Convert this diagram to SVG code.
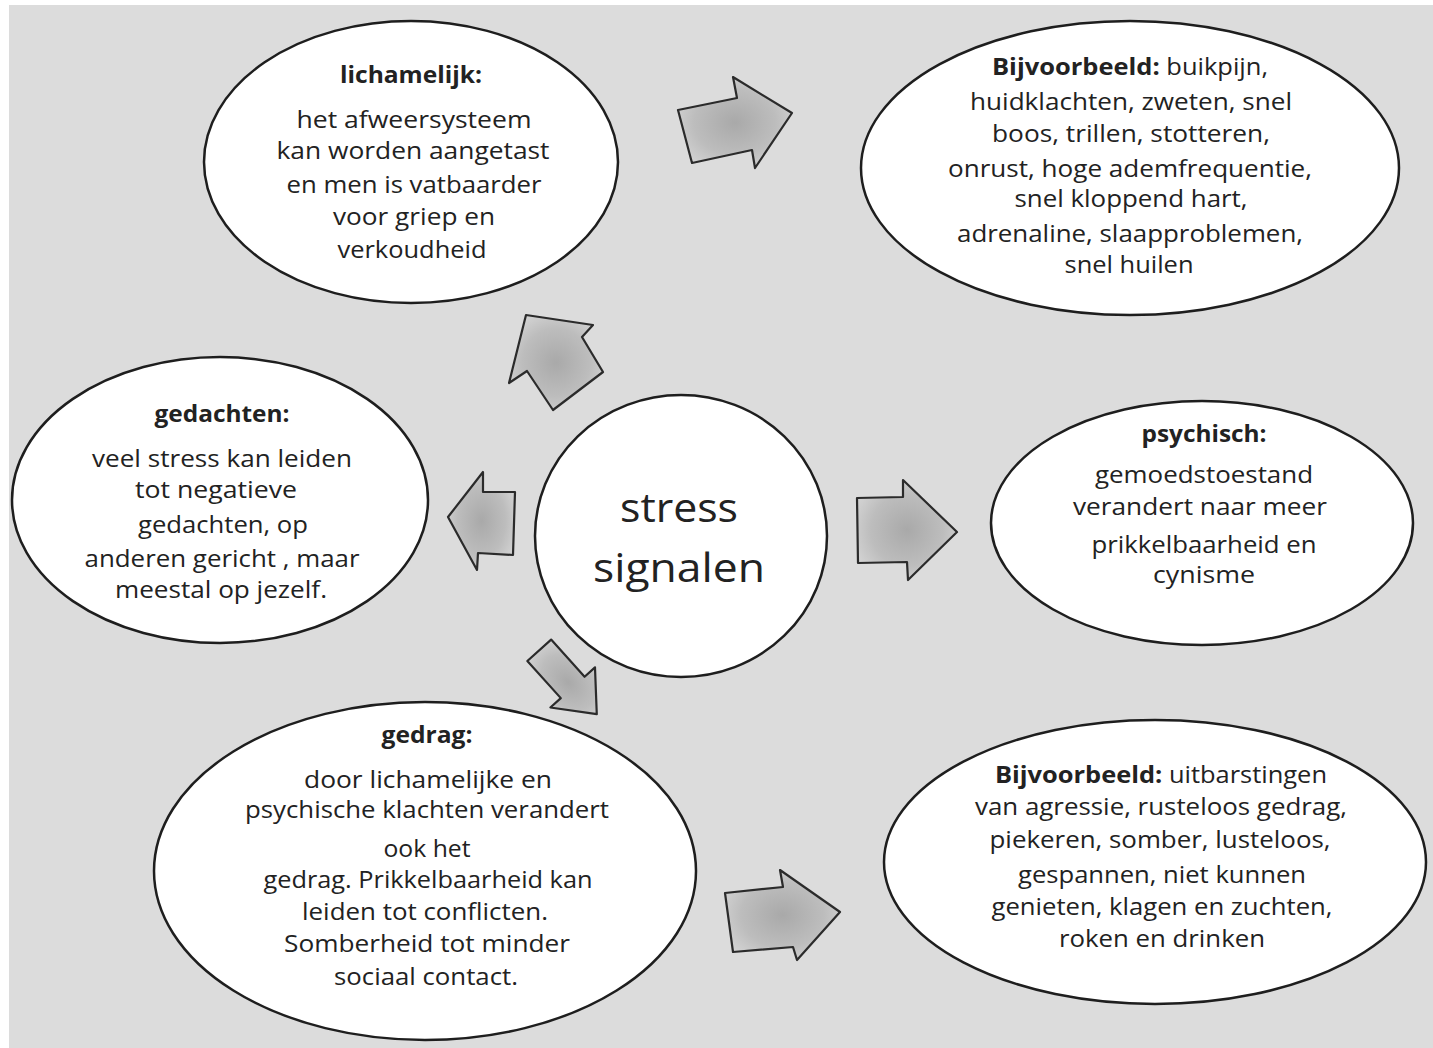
<svg xmlns="http://www.w3.org/2000/svg" width="1433" height="1048" viewBox="0 0 1433 1048">
<defs>
<style>
.node ellipse{fill:#ffffff;stroke:#1e1e1e;stroke-width:2.5}
.t{font-family:"Open Sans","Liberation Sans",sans-serif;font-size:23px;fill:#222222;text-anchor:middle}
.b{font-weight:bold}
.big{font-size:40px}
.arrow{fill:url(#ag);stroke:#2b2b2b;stroke-width:2.2;stroke-linejoin:round}
</style>
<radialGradient id="ag" cx="0.5" cy="0.5" r="0.6">
<stop offset="0" stop-color="#a9a9a9"/>
<stop offset="0.6" stop-color="#bdbdbd"/>
<stop offset="1" stop-color="#d6d6d6"/>
</radialGradient>
</defs>
<rect x="0" y="0" width="1433" height="1048" fill="#ffffff"/>
<rect x="9" y="5" width="1424" height="1043" fill="#dcdcdc"/>

<g id="connectors">
<polygon class="arrow" points="678,110 737,98 733,77 792,113 755,168 752,150 692,163"/>
<polygon class="arrow" points="526,315 593,325 582,337 603,372 553,410 527,371 509,383"/>
<polygon class="arrow" points="448,517 483,472 483,492 515,492 513,555 478,553 477,570"/>
<polygon class="arrow" transform="translate(566,680) rotate(48)" points="-40,-16 10,-16 10,-30 46,0 10,30 10,16 -40,16"/>
<polygon class="arrow" points="857,498 903,497 903,480 957,532 908,580 907,562 858,563"/>
<polygon class="arrow" points="725,893 783,887 780,870 840,912 797,960 793,947 733,952"/>
</g>

<g id="lichamelijk" class="node">
<ellipse cx="411" cy="162" rx="207" ry="141"/>
<text class="t b" x="411" y="83" textLength="142" lengthAdjust="spacingAndGlyphs">lichamelijk:</text>
<text class="t" x="414" y="128" textLength="235" lengthAdjust="spacingAndGlyphs">het afweersysteem</text>
<text class="t" x="413" y="159" textLength="273" lengthAdjust="spacingAndGlyphs">kan worden aangetast</text>
<text class="t" x="414" y="193" textLength="255" lengthAdjust="spacingAndGlyphs">en men is vatbaarder</text>
<text class="t" x="414" y="225" textLength="162" lengthAdjust="spacingAndGlyphs">voor griep en</text>
<text class="t" x="412" y="258" textLength="149" lengthAdjust="spacingAndGlyphs">verkoudheid</text>
</g>

<g id="voorbeeld-lichamelijk" class="node">
<ellipse cx="1130" cy="168" rx="269" ry="147"/>
<text class="t" x="1130" y="75" textLength="276" lengthAdjust="spacingAndGlyphs"><tspan class="b">Bijvoorbeeld:</tspan> buikpijn,</text>
<text class="t" x="1131" y="110" textLength="322" lengthAdjust="spacingAndGlyphs">huidklachten, zweten, snel</text>
<text class="t" x="1131" y="142" textLength="278" lengthAdjust="spacingAndGlyphs">boos, trillen, stotteren,</text>
<text class="t" x="1130" y="177" textLength="364" lengthAdjust="spacingAndGlyphs">onrust, hoge ademfrequentie,</text>
<text class="t" x="1131" y="207" textLength="233" lengthAdjust="spacingAndGlyphs">snel kloppend hart,</text>
<text class="t" x="1130" y="242" textLength="346" lengthAdjust="spacingAndGlyphs">adrenaline, slaapproblemen,</text>
<text class="t" x="1129" y="273" textLength="129" lengthAdjust="spacingAndGlyphs">snel huilen</text>
</g>

<g id="gedachten" class="node">
<ellipse cx="220" cy="500" rx="208" ry="143"/>
<text class="t b" x="222" y="422" textLength="135" lengthAdjust="spacingAndGlyphs">gedachten:</text>
<text class="t" x="222" y="467" textLength="260" lengthAdjust="spacingAndGlyphs">veel stress kan leiden</text>
<text class="t" x="216" y="498" textLength="162" lengthAdjust="spacingAndGlyphs">tot negatieve</text>
<text class="t" x="223" y="533" textLength="170" lengthAdjust="spacingAndGlyphs">gedachten, op</text>
<text class="t" x="222" y="567" textLength="275" lengthAdjust="spacingAndGlyphs">anderen gericht , maar</text>
<text class="t" x="221" y="598" textLength="212" lengthAdjust="spacingAndGlyphs">meestal op jezelf.</text>
</g>

<g id="stress-signalen" class="node">
<ellipse cx="681" cy="536" rx="146" ry="141"/>
<text class="t big" x="679" y="522" textLength="118" lengthAdjust="spacingAndGlyphs">stress</text>
<text class="t big" x="679" y="582" textLength="172" lengthAdjust="spacingAndGlyphs">signalen</text>
</g>

<g id="psychisch" class="node">
<ellipse cx="1202" cy="523" rx="211" ry="122"/>
<text class="t b" x="1204" y="442" textLength="125" lengthAdjust="spacingAndGlyphs">psychisch:</text>
<text class="t" x="1204" y="483" textLength="218" lengthAdjust="spacingAndGlyphs">gemoedstoestand</text>
<text class="t" x="1200" y="515" textLength="254" lengthAdjust="spacingAndGlyphs">verandert naar meer</text>
<text class="t" x="1204" y="553" textLength="225" lengthAdjust="spacingAndGlyphs">prikkelbaarheid en</text>
<text class="t" x="1204" y="583" textLength="102" lengthAdjust="spacingAndGlyphs">cynisme</text>
</g>

<g id="gedrag" class="node">
<ellipse cx="425" cy="871" rx="271" ry="169"/>
<text class="t b" x="427" y="743" textLength="91" lengthAdjust="spacingAndGlyphs">gedrag:</text>
<text class="t" x="428" y="788" textLength="248" lengthAdjust="spacingAndGlyphs">door lichamelijke en</text>
<text class="t" x="427" y="818" textLength="364" lengthAdjust="spacingAndGlyphs">psychische klachten verandert</text>
<text class="t" x="427" y="857" textLength="87" lengthAdjust="spacingAndGlyphs">ook het</text>
<text class="t" x="428" y="888" textLength="329" lengthAdjust="spacingAndGlyphs">gedrag. Prikkelbaarheid kan</text>
<text class="t" x="425" y="920" textLength="246" lengthAdjust="spacingAndGlyphs">leiden tot conflicten.</text>
<text class="t" x="427" y="952" textLength="286" lengthAdjust="spacingAndGlyphs">Somberheid tot minder</text>
<text class="t" x="426" y="985" textLength="184" lengthAdjust="spacingAndGlyphs">sociaal contact.</text>
</g>

<g id="voorbeeld-gedrag" class="node">
<ellipse cx="1155" cy="862" rx="271" ry="142"/>
<text class="t" x="1161" y="783" textLength="332" lengthAdjust="spacingAndGlyphs"><tspan class="b">Bijvoorbeeld:</tspan> uitbarstingen</text>
<text class="t" x="1161" y="815" textLength="372" lengthAdjust="spacingAndGlyphs">van agressie, rusteloos gedrag,</text>
<text class="t" x="1160" y="848" textLength="341" lengthAdjust="spacingAndGlyphs">piekeren, somber, lusteloos,</text>
<text class="t" x="1162" y="883" textLength="288" lengthAdjust="spacingAndGlyphs">gespannen, niet kunnen</text>
<text class="t" x="1162" y="915" textLength="341" lengthAdjust="spacingAndGlyphs">genieten, klagen en zuchten,</text>
<text class="t" x="1162" y="947" textLength="206" lengthAdjust="spacingAndGlyphs">roken en drinken</text>
</g>
</svg>
